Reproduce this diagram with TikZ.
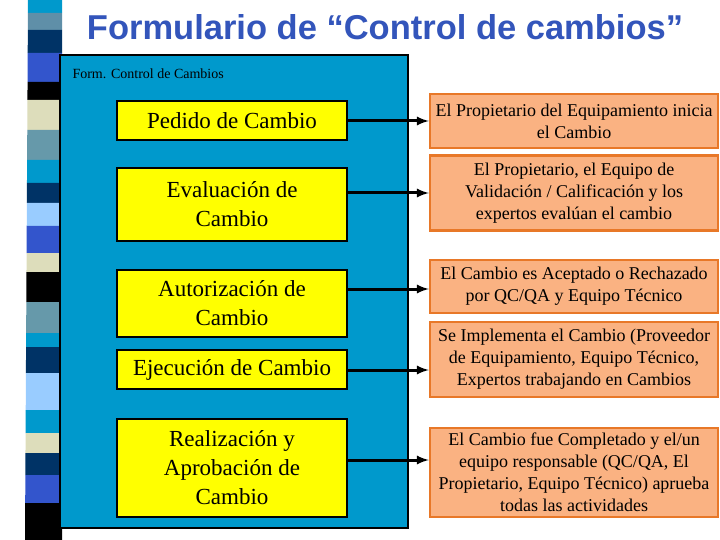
\documentclass[tikz,border=0pt]{standalone}
\usepackage{fontspec}
\setmainfont{Liberation Serif}
\newfontfamily\titlefont{Liberation Sans}
\begin{document}
\begin{tikzpicture}[x=1pt,y=-1pt,
  ybox/.style={draw=black,line width=2.2pt,fill={rgb,255:red,255;green,255;blue,0},align=center,font=\fontsize{23}{29}\selectfont,inner sep=0pt},
  obox/.style={draw={rgb,255:red,232;green,120;blue,40},line width=2.5pt,fill={rgb,255:red,250;green,178;blue,130},align=center,font=\fontsize{18}{22}\selectfont,inner sep=0pt},
  arr/.style={-latex,line width=3pt}]
\useasboundingbox (0,0) rectangle (720,540);
\fill[white] (0,0) rectangle (720,540);
% stripes
\foreach \a/\b/\c in {0/13/0099CC,13/30/5F8FA8,30/53/003366,53/82/3355CC,82/100/000000,100/130/DDDDBB,130/160/6699AA,160/183/0099CC,183/203/003366,203/226/99CCFF,226/253/3355CC,253/272/DDDDBB,272/302/000000,302/333/6699AA,333/347/0099CC,347/373/003366,373/410/99CCFF,410/433/0099CC,433/453/DDDDBB,453/475/003366,475/503/3355CC,503/540/000000}{
  \definecolor{sc}{HTML}{\c}
  \fill[sc] ({28-3*\a/540},\a) -- (62,\a) -- (62,\b) -- ({28-3*\b/540},\b) -- cycle;
}
\node[font=\titlefont\bfseries\fontsize{34.5}{38}\selectfont,text={rgb,255:red,51;green,85;blue,187},anchor=center] (title) at (385,27) {Formulario de “Control de cambios”};
\definecolor{panel}{HTML}{0099CC}
\draw[fill=panel,line width=1.5pt] (60,55) rectangle (408,528);
\node[anchor=west,font=\fontsize{14}{16}\selectfont] (ft) at (69,74) {Form. Control de Cambios};
\node[ybox,minimum width=230,minimum height=39] (y1) at (232,120.5) {Pedido de Cambio};
\node[ybox,minimum width=230,minimum height=73] (y2) at (232,204.5) {Evaluación de\\Cambio};
\node[ybox,minimum width=230,minimum height=67] (y3) at (232,303.5) {Autorización de\\Cambio};
\node[ybox,minimum width=230,minimum height=39] (y4) at (232,369.5) {Ejecución de Cambio};
\node[ybox,minimum width=230,minimum height=98] (y5) at (232,468) {Realización y\\Aprobación de\\Cambio};
\node[obox,minimum width=288,minimum height=54] (o1) at (574,121) {El Propietario del Equipamiento inicia\\el Cambio};
\node[obox,minimum width=288,minimum height=75] (o2) at (574,193) {El Propietario, el Equipo de\\Validación / Calificación y los\\expertos evalúan el cambio};
\node[obox,minimum width=288,minimum height=53] (o3) at (574,286.5) {El Cambio es Aceptado o Rechazado\\por QC/QA y Equipo Técnico};
\node[obox,minimum width=288,minimum height=75] (o4) at (574,359.5) {Se Implementa el Cambio (Proveedor\\de Equipamiento, Equipo Técnico,\\Expertos trabajando en Cambios};
\node[obox,minimum width=288,minimum height=89] (o5) at (574,472.5) {El Cambio fue Completado y el/un\\equipo responsable (QC/QA, El\\Propietario, Equipo Técnico) aprueba\\todas las actividades};
\draw[arr] (y1.east |- 0,121) -- (o1.west |- 0,121);
\draw[arr] (y2.east |- 0,193) -- (o2.west |- 0,193);
\draw[arr] (y3.east |- 0,289) -- (o3.west |- 0,289);
\draw[arr] (y4.east |- 0,370) -- (o4.west |- 0,370);
\draw[arr] (y5.east |- 0,460) -- (o5.west |- 0,460);
\end{tikzpicture}
\end{document}
